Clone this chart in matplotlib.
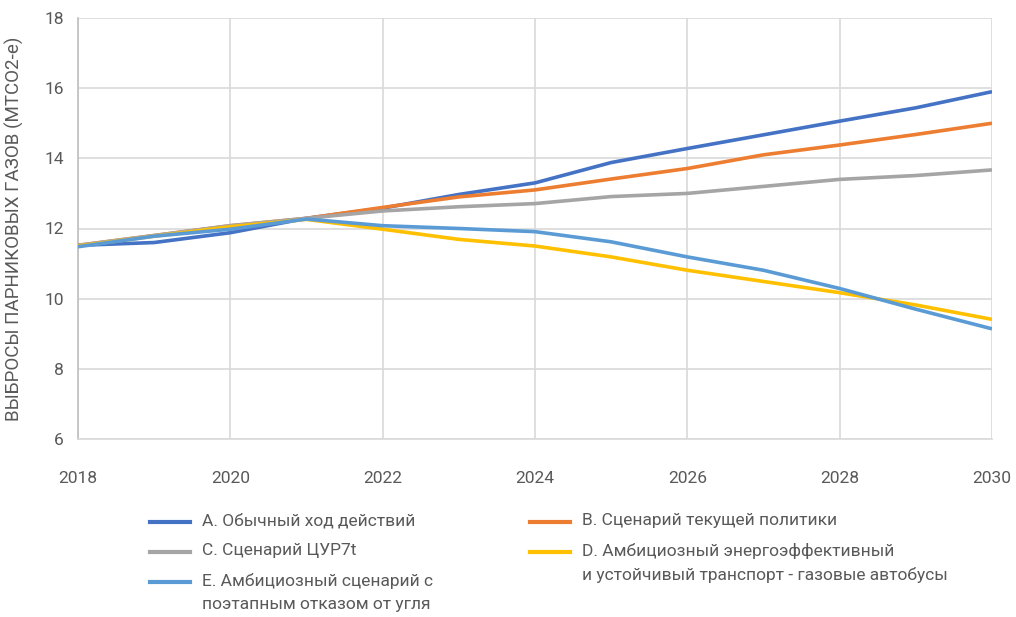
import matplotlib
matplotlib.use("Agg")
import matplotlib.pyplot as plt
from matplotlib.lines import Line2D

plt.rcParams['font.family'] = ['Roboto', 'DejaVu Sans']

years = [2018, 2019, 2020, 2021, 2022, 2023, 2024, 2025, 2026, 2027, 2028, 2029, 2030]

series_a = [11.52, 11.60, 11.88, 12.29, 12.58, 12.97, 13.30, 13.88, 14.28, 14.67, 15.06, 15.44, 15.90]
series_b = [11.52, 11.80, 12.08, 12.29, 12.60, 12.90, 13.10, 13.41, 13.71, 14.10, 14.38, 14.68, 15.00]
series_c = [11.52, 11.80, 12.08, 12.29, 12.50, 12.62, 12.71, 12.91, 13.00, 13.20, 13.40, 13.51, 13.67]
series_d = [11.50, 11.78, 12.05, 12.26, 11.98, 11.69, 11.50, 11.19, 10.81, 10.49, 10.17, 9.82, 9.41]
series_e = [11.48, 11.78, 11.98, 12.27, 12.08, 12.00, 11.91, 11.62, 11.19, 10.81, 10.29, 9.70, 9.14]

labels = [
    "A. Обычный ход действий",
    "B. Сценарий текущей политики",
    "C. Сценарий ЦУР7t",
    "D. Амбициозный энергоэффективный\nи устойчивый транспорт - газовые автобусы",
    "E. Амбициозный сценарий с\nпоэтапным отказом от угля",
]
colors = ["#4472C4", "#ED7D31", "#A5A5A5", "#FFC000", "#5B9BD5"]
values = [series_a, series_b, series_c, series_d, series_e]

y_label = "ВЫБРОСЫ ПАРНИКОВЫХ ГАЗОВ (МТСО2-е)"
text_color = "#595959"
grid_color = "#D9D9D9"

fig = plt.figure(figsize=(10.16, 6.17), dpi=100)
W, H = 1016, 617
ax = fig.add_axes([78 / W, 1 - 439 / H, (992 - 78) / W, (439 - 18) / H])

for vals, col in zip(values, colors):
    ax.plot(years, vals, color=col, lw=2.6, solid_capstyle='butt', solid_joinstyle='round', zorder=3)

ax.set_xlim(2018, 2030)
ax.set_ylim(6, 18)
ax.set_xticks(range(2018, 2031, 2))
ax.set_yticks(range(6, 19, 2))
ax.grid(True, color=grid_color, lw=1.2)
for s in ['top', 'right']:
    ax.spines[s].set_visible(False)
ax.spines['left'].set_color("#BFBFBF")
ax.spines['bottom'].set_color(grid_color)
ax.spines['left'].set_linewidth(1.2)
ax.spines['bottom'].set_linewidth(1.2)
ax.tick_params(axis='both', length=0, labelsize=12.5, colors=text_color)
ax.tick_params(axis='x', pad=23)
ax.tick_params(axis='y', pad=10)
ax.set_ylabel(y_label, fontsize=13.5, color=text_color)
ax.yaxis.set_label_coords(-54 / (992 - 78), 0.5)

# legend drawn in two columns: A, C, E on the left; B, D on the right
legend_pos = [
    (150, 522),  # A
    (530, 522),  # B
    (150, 552),  # C
    (530, 552),  # D
    (150, 582),  # E
]
for (px, py), lab, col in zip(legend_pos, labels, colors):
    fig.add_artist(Line2D([px / W, (px + 40) / W], [1 - py / H, 1 - py / H],
                          color=col, lw=3, transform=fig.transFigure))
    fig.text((px + 52) / W, 1 - (py - 9) / H, lab, fontsize=12.5, color=text_color,
             va='top', ha='left', linespacing=1.65)

fig.savefig("out.png", dpi=100)
